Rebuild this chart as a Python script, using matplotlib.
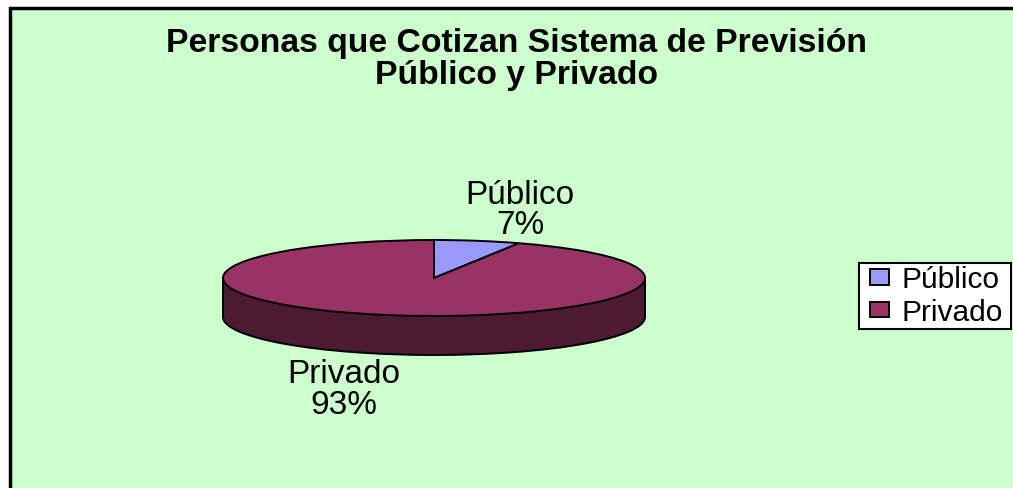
import matplotlib
matplotlib.use("Agg")
import matplotlib.pyplot as plt
from matplotlib.legend_handler import HandlerPatch
from matplotlib.patches import Rectangle, Wedge

plt.rcParams['font.family'] = ['Liberation Sans', 'DejaVu Sans']

W, H = 1013, 489

title = "Personas que Cotizan Sistema de Previsión\nPúblico y Privado"
labels = ["Público", "Privado"]
values = [6.6, 93.4]
colors = ["#9999FF", "#993366"]
side_color = "#4C1A33"
bg_color = "#CCFFCC"

# pie geometry in pixels (flattened ellipse)
cx, cy = 434, 279
rx, ry = 211, 38
depth = 39 / ry


def fx(px):
    return px / W


def fy(py):
    return 1 - py / H


fig = plt.figure(figsize=(W / 100, H / 100), dpi=100, facecolor="white")

# chart area, only left and top border visible
fig.patches.append(Rectangle((fx(10), fy(H + 5)), fx(W + 5), fy(9) - fy(H + 5),
                             transform=fig.transFigure, facecolor=bg_color,
                             edgecolor="black", linewidth=2.5, zorder=-1))

ax = fig.add_axes([0, 0, 1, 1])
ax.patch.set_visible(False)

# bottom of the disc
ax.pie([1], colors=[side_color], center=(0, -depth), startangle=90,
       wedgeprops={"edgecolor": "black", "linewidth": 1.4, "zorder": 1})
ax.fill_between([-1, 1], [0, 0], [-depth, -depth], color=side_color, linewidth=0, zorder=2)
ax.plot([-1, -1], [0, -depth], color="black", lw=1.4, zorder=2)
ax.plot([1, 1], [0, -depth], color="black", lw=1.4, zorder=2)

# top of the disc
wedges, _ = ax.pie(values, colors=colors, startangle=90, counterclock=False,
                   wedgeprops={"edgecolor": "black", "linewidth": 1.4, "zorder": 3})

ax.set_aspect("auto")
ax.set_xlim(-cx / rx, (W - cx) / rx)
ax.set_ylim(-(H - cy) / ry, cy / ry)

fig.text(fx(516), fy(59.5), title, ha="center", va="center", fontsize=24.3,
         fontweight="bold", linespacing=1.05)

fig.text(fx(520), fy(210.5), f"{labels[0]}\n{values[0]:.0f}%", ha="center", va="center",
         fontsize=24, linespacing=1.0)
fig.text(fx(344), fy(390.5), f"{labels[1]}\n{values[1]:.0f}%", ha="center", va="center",
         fontsize=24, linespacing=1.0)

# box spans the full width, the swatch sits away from the left edge
leg = fig.legend(wedges, labels, loc="lower left",
                 bbox_to_anchor=(fx(859), fy(329.5), 152 / W, 66 / H),
                 bbox_transform=fig.transFigure, mode="expand", fontsize=21.5, frameon=True,
                 fancybox=False, framealpha=1, edgecolor="black", facecolor="white",
                 handlelength=0.93, handleheight=0.43, handletextpad=0.4, labelspacing=0.16,
                 borderpad=0.08, borderaxespad=0,
                 handler_map={Wedge: HandlerPatch(xpad=0.3)})
leg.get_frame().set_linewidth(1.5)

fig.savefig("out.png", dpi=100)
